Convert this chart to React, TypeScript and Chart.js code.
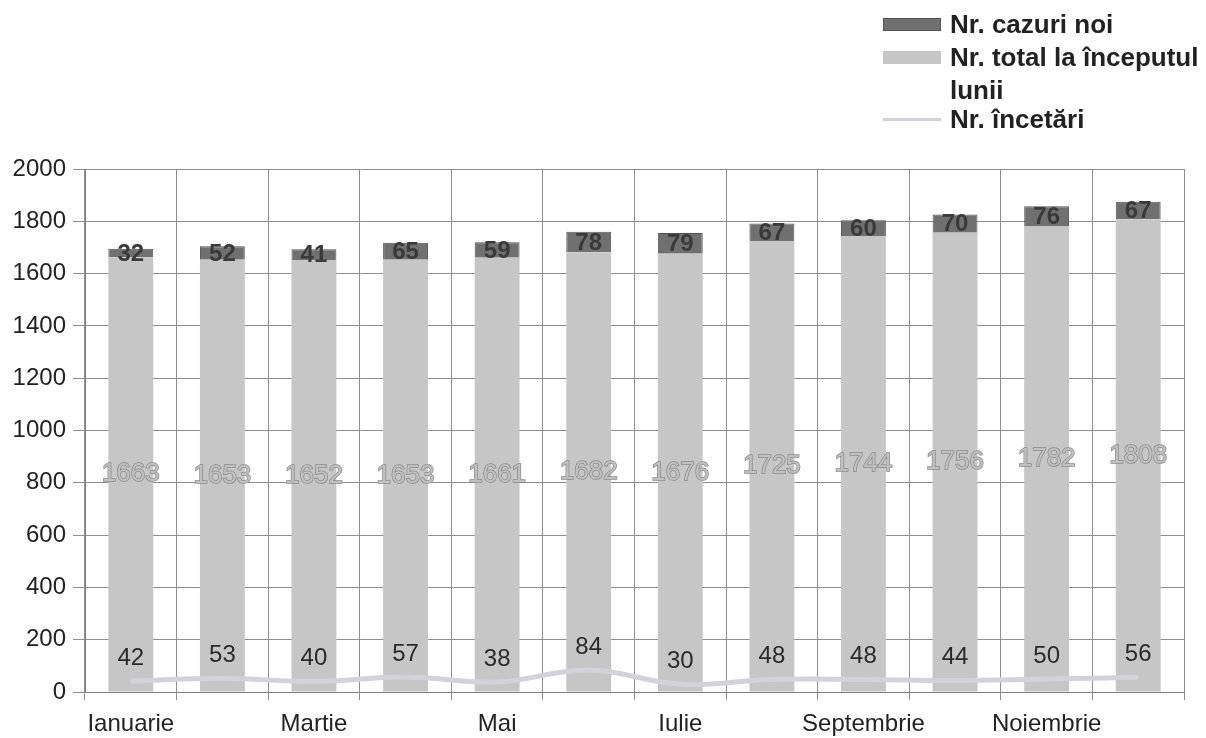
import React, { useEffect, useRef } from "react";
import { Chart, registerables } from "chart.js";

Chart.register(...registerables);

const months = [
  "Ianuarie", "Februarie", "Martie", "Aprilie", "Mai", "Iunie",
  "Iulie", "August", "Septembrie", "Octombrie", "Noiembrie", "Decembrie",
];
const totalStart = [1663, 1653, 1652, 1653, 1661, 1682, 1676, 1725, 1744, 1756, 1782, 1808];
const newCases = [32, 52, 41, 65, 59, 78, 79, 67, 60, 70, 76, 67];
const terminations = [42, 53, 40, 57, 38, 84, 30, 48, 48, 44, 50, 56];
const yTicks = [0, 200, 400, 600, 800, 1000, 1200, 1400, 1600, 1800, 2000];

const FONT = "'Liberation Sans', Arial, sans-serif";

const labelPlugin = {
  id: "valueLabels",
  afterDatasetsDraw(chart: any) {
    const ctx = chart.ctx;
    ctx.save();
    ctx.textAlign = "center";
    ctx.textBaseline = "middle";
    chart.data.datasets.forEach((ds: any, di: number) => {
      const meta = chart.getDatasetMeta(di);
      meta.data.forEach((el: any, i: number) => {
        const v = ds.data[i];
        if (ds.type === "line") {
          ctx.font = `24px ${FONT}`;
          ctx.fillStyle = "#2a2a2a";
          ctx.fillText(String(v), el.x, el.y - 23);
        } else if (ds.label === "Nr. total la începutul lunii") {
          const cy = (el.y + el.base) / 2;
          ctx.font = `26px ${FONT}`;
          ctx.lineWidth = 1.5;
          ctx.strokeStyle = "#8c8c8c";
          ctx.strokeText(String(v), el.x, cy);
          ctx.fillStyle = "#c0c0c0";
          ctx.fillText(String(v), el.x, cy);
        } else {
          const cy = (el.y + el.base) / 2;
          ctx.font = `bold 24px ${FONT}`;
          ctx.fillStyle = "#3a3a3a";
          ctx.fillText(String(v), el.x, cy + 1);
        }
      });
    });
    ctx.restore();
  },
};

export default function App() {
  const ref = useRef<HTMLCanvasElement>(null);
  useEffect(() => {
    if (!ref.current) return;
    const chart = new Chart(ref.current, {
      type: "bar",
      data: {
        labels: months,
        datasets: [
          {
            type: "line",
            label: "Nr. încetări",
            data: terminations,
            borderColor: "#d2d2db",
            backgroundColor: "#d2d2db",
            borderWidth: 5,
            pointRadius: 0,
            tension: 0.4,
            stack: "line",
            order: 0,
          } as any,
          {
            type: "bar",
            label: "Nr. total la începutul lunii",
            data: totalStart,
            backgroundColor: "#c6c6c6",
            barPercentage: 0.49,
            categoryPercentage: 1,
            stack: "bars",
            order: 1,
          },
          {
            type: "bar",
            label: "Nr. cazuri noi",
            data: newCases,
            backgroundColor: "#707070",
            borderColor: "#555555",
            borderWidth: 1,
            barPercentage: 0.49,
            categoryPercentage: 1,
            stack: "bars",
            order: 1,
          },
        ],
      },
      options: {
        animation: false,
        responsive: false,
        maintainAspectRatio: false,
        layout: { padding: { top: 169, right: 22, left: 0, bottom: 0 } },
        plugins: { legend: { display: false }, tooltip: { enabled: false } },
        scales: {
          x: {
            stacked: true,
            grid: {
              offset: true,
              color: "#8e8e8e",
              lineWidth: 1,
              tickLength: 8,
            },
            border: { color: "#808080", width: 1 },
            ticks: {
              autoSkip: false,
              maxRotation: 0,
              color: "#222",
              font: { family: FONT, size: 24 },
              padding: 10,
              callback: (_v: any, i: number) => (i % 2 === 0 ? months[i] : ""),
            },
            afterFit: (s: any) => { s.height = 738 - 692; },
          },
          y: {
            stacked: true,
            min: 0,
            max: 2000,
            afterBuildTicks: (s: any) => { s.ticks = yTicks.map((v) => ({ value: v })); },
            grid: { color: "#8e8e8e", lineWidth: 1, tickLength: 12 },
            border: { color: "#808080", width: 1 },
            ticks: {
              color: "#222",
              font: { family: FONT, size: 24 },
              padding: 7,
              callback: (v: any) => String(v),
            },
            afterFit: (s: any) => { s.width = 85; },
          },
        },
      },
      plugins: [labelPlugin],
    });
    return () => chart.destroy();
  }, []);

  const legendRow = (swatch: React.ReactNode, text: React.ReactNode, top: number) => (
    <div style={{ position: "absolute", left: 883, top, display: "flex", alignItems: "flex-start" }}>
      <div style={{ width: 58, height: 33, display: "flex", alignItems: "center" }}>{swatch}</div>
      <div style={{ marginLeft: 9, font: `bold 26px ${FONT}`, color: "#222", lineHeight: "33px", whiteSpace: "nowrap" }}>{text}</div>
    </div>
  );

  return (
    <div style={{ position: "absolute", left: 0, top: 0, width: 1206, height: 738, background: "#fff", overflow: "hidden" }}>
      <canvas ref={ref} width={1206} height={738} style={{ position: "absolute", left: 0, top: 0 }} />
      {legendRow(<div style={{ width: 58, height: 13, background: "#707070", border: "1px solid #555", boxSizing: "border-box" }} />, "Nr. cazuri noi", 8)}
      {legendRow(<div style={{ width: 58, height: 13, background: "#c6c6c6" }} />, <span>Nr. total la începutul<br />lunii</span>, 41)}
      {legendRow(<div style={{ width: 58, height: 3, background: "#d2d2db" }} />, "Nr. încetări", 103)}
    </div>
  );
}
